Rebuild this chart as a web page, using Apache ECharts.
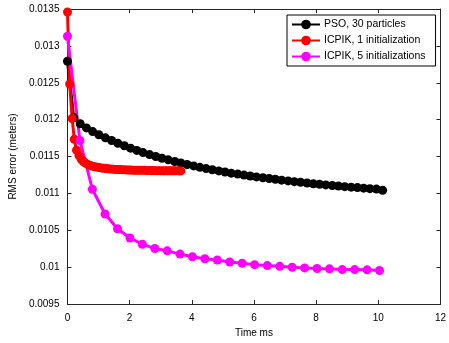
<!DOCTYPE html>
<html>
<head>
<meta charset="utf-8">
<script src="https://cdn.jsdelivr.net/npm/echarts@6/dist/echarts.min.js"></script>
<style>
html,body{margin:0;padding:0;background:#fff;}
#chart{width:449px;height:343px;}
</style>
</head>
<body>
<div id="chart"></div>
<script>
// ---- data ----
var seriesNames = ['PSO, 30 particles', 'ICPIK, 1 initialization', 'ICPIK, 5 initializations'];
var psoTime = [0, 0.2, 0.41, 0.61, 0.81, 1.01, 1.22, 1.42, 1.62, 1.83, 2.03, 2.23, 2.43, 2.64, 2.84, 3.04, 3.24, 3.45, 3.65, 3.85, 4.06, 4.26, 4.46, 4.66, 4.87, 5.07, 5.27, 5.48, 5.68, 5.88, 6.08, 6.29, 6.49, 6.69, 6.89, 7.1, 7.3, 7.5, 7.71, 7.91, 8.11, 8.31, 8.52, 8.72, 8.92, 9.13, 9.33, 9.53, 9.73, 9.94, 10.14];
var psoError = [0.012791, 0.012028, 0.011944, 0.011888, 0.011838, 0.011796, 0.011754, 0.011717, 0.011681, 0.011646, 0.011614, 0.011583, 0.011554, 0.011527, 0.011501, 0.011477, 0.011455, 0.011433, 0.011412, 0.011392, 0.011373, 0.011354, 0.011337, 0.011321, 0.011305, 0.01129, 0.011275, 0.011262, 0.011249, 0.011236, 0.011224, 0.011212, 0.011202, 0.011191, 0.01118, 0.01117, 0.01116, 0.011151, 0.011141, 0.011132, 0.011124, 0.011116, 0.011108, 0.0111, 0.011092, 0.011085, 0.011079, 0.011072, 0.011065, 0.011059, 0.011042];
var icp1Time = [0, 0.07, 0.15, 0.22, 0.29, 0.37, 0.44, 0.51, 0.58, 0.66, 0.73, 0.8, 0.88, 0.95, 1.02, 1.1, 1.17, 1.24, 1.31, 1.39, 1.46, 1.53, 1.61, 1.68, 1.75, 1.83, 1.9, 1.97, 2.04, 2.12, 2.19, 2.26, 2.34, 2.41, 2.48, 2.56, 2.63, 2.7, 2.77, 2.85, 2.92, 2.99, 3.07, 3.14, 3.21, 3.29, 3.36, 3.43, 3.5, 3.58, 3.65];
var icp1Error = [0.01346, 0.012483, 0.012015, 0.011734, 0.011587, 0.011513, 0.011467, 0.011433, 0.01141, 0.011393, 0.01138, 0.01137, 0.011362, 0.011356, 0.01135, 0.011345, 0.011341, 0.011337, 0.011334, 0.011331, 0.011329, 0.011326, 0.011325, 0.011323, 0.011322, 0.011321, 0.011319, 0.011318, 0.011317, 0.011315, 0.011315, 0.011314, 0.011314, 0.011313, 0.011313, 0.011311, 0.011311, 0.01131, 0.01131, 0.011309, 0.011309, 0.011309, 0.011307, 0.011307, 0.011307, 0.011306, 0.011306, 0.011306, 0.011306, 0.011305, 0.011305];
var icp5Time = [0, 0.4, 0.8, 1.21, 1.61, 2.01, 2.41, 2.81, 3.21, 3.62, 4.02, 4.42, 4.82, 5.22, 5.62, 6.02, 6.43, 6.83, 7.23, 7.63, 8.03, 8.43, 8.84, 9.24, 9.64, 10.04];
var icp5Error = [0.01313, 0.011718, 0.011057, 0.010721, 0.010521, 0.010396, 0.010312, 0.010253, 0.010222, 0.010178, 0.010142, 0.010115, 0.010098, 0.010071, 0.010053, 0.010035, 0.010022, 0.010012, 0.009999, 0.009991, 0.009982, 0.009978, 0.009968, 0.009968, 0.009964, 0.009955];
var xTickLabels = ['0', '2', '4', '6', '8', '10', '12'];
var yTickLabels = ['0.0095', '0.01', '0.0105', '0.011', '0.0115', '0.012', '0.0125', '0.013', '0.0135'];
var xAxisTitle = 'Time ms';
var yAxisTitle = 'RMS error (meters)';

function pairs(xs, ys) { return xs.map(function (x, i) { return [x, ys[i]]; }); }

var FONT = 'Liberation Sans, Arial, sans-serif';
var AX = '#262626';
var yMin = 0.0095, yStep = 0.0005;

var baseX = {
  type: 'value', min: 0, max: 12, interval: 2,
  axisLine: { show: true, onZero: false, lineStyle: { color: AX, width: 1 } },
  axisTick: { show: true, inside: true, length: 4, lineStyle: { color: AX } },
  splitLine: { show: false }
};
var baseY = {
  type: 'value', min: yMin, max: 0.0135, interval: yStep,
  axisLine: { show: true, onZero: false, lineStyle: { color: AX, width: 1 } },
  axisTick: { show: true, inside: true, length: 4, lineStyle: { color: AX } },
  splitLine: { show: false }
};

var chart = echarts.init(document.getElementById('chart'), null, { renderer: 'canvas' });
chart.setOption({
  animation: false,
  backgroundColor: '#fff',
  textStyle: { fontFamily: FONT },
  grid: { left: 63, right: 6, top: 9, bottom: 35, containLabel: false },
  legend: {
    orient: 'vertical',
    left: 287, top: 15,
    data: seriesNames,
    backgroundColor: '#fff',
    borderColor: '#000', borderWidth: 1, borderRadius: 0,
    padding: [4, 10, 4, 4],
    itemGap: 5,
    itemWidth: 28, itemHeight: 12,
    textStyle: { fontFamily: FONT, fontSize: 10.5, color: '#000', padding: [0, 0, 0, -1] }
  },
  xAxis: [
    Object.assign({}, baseX, {
      position: 'bottom',
      name: xAxisTitle, nameLocation: 'middle', nameGap: 20,
      nameTextStyle: { fontFamily: FONT, fontSize: 10, color: '#000' },
      axisLabel: { show: true, margin: 9, color: '#000', fontFamily: FONT, fontSize: 10,
        formatter: function (v) { return xTickLabels[Math.round(v / 2)]; } }
    }),
    Object.assign({}, baseX, { position: 'top', axisLabel: { show: false } })
  ],
  yAxis: [
    Object.assign({}, baseY, {
      position: 'left',
      name: yAxisTitle, nameLocation: 'middle', nameGap: 43, nameRotate: 90,
      nameTextStyle: { fontFamily: FONT, fontSize: 10, color: '#000' },
      axisLabel: { show: true, margin: 8, color: '#000', fontFamily: FONT, fontSize: 10,
        formatter: function (v) { return yTickLabels[Math.round((v - yMin) / yStep)]; } }
    }),
    Object.assign({}, baseY, { position: 'right', axisLabel: { show: false } })
  ],
  series: [
    {
      name: seriesNames[0], type: 'line', data: pairs(psoTime, psoError),
      xAxisIndex: 0, yAxisIndex: 0,
      color: '#000', symbol: 'circle', symbolSize: 9, showSymbol: true,
      lineStyle: { color: '#000', width: 3 }, itemStyle: { color: '#000' }
    },
    {
      name: seriesNames[1], type: 'line', data: pairs(icp1Time, icp1Error),
      xAxisIndex: 0, yAxisIndex: 0,
      color: '#ff0000', symbol: 'circle', symbolSize: 9, showSymbol: true,
      lineStyle: { color: '#ff0000', width: 3 }, itemStyle: { color: '#ff0000' }
    },
    {
      name: seriesNames[2], type: 'line', data: pairs(icp5Time, icp5Error),
      xAxisIndex: 0, yAxisIndex: 0,
      color: '#ff00ff', symbol: 'circle', symbolSize: 9, showSymbol: true,
      lineStyle: { color: '#ff00ff', width: 3 }, itemStyle: { color: '#ff00ff' }
    }
  ]
});
</script>
</body>
</html>
